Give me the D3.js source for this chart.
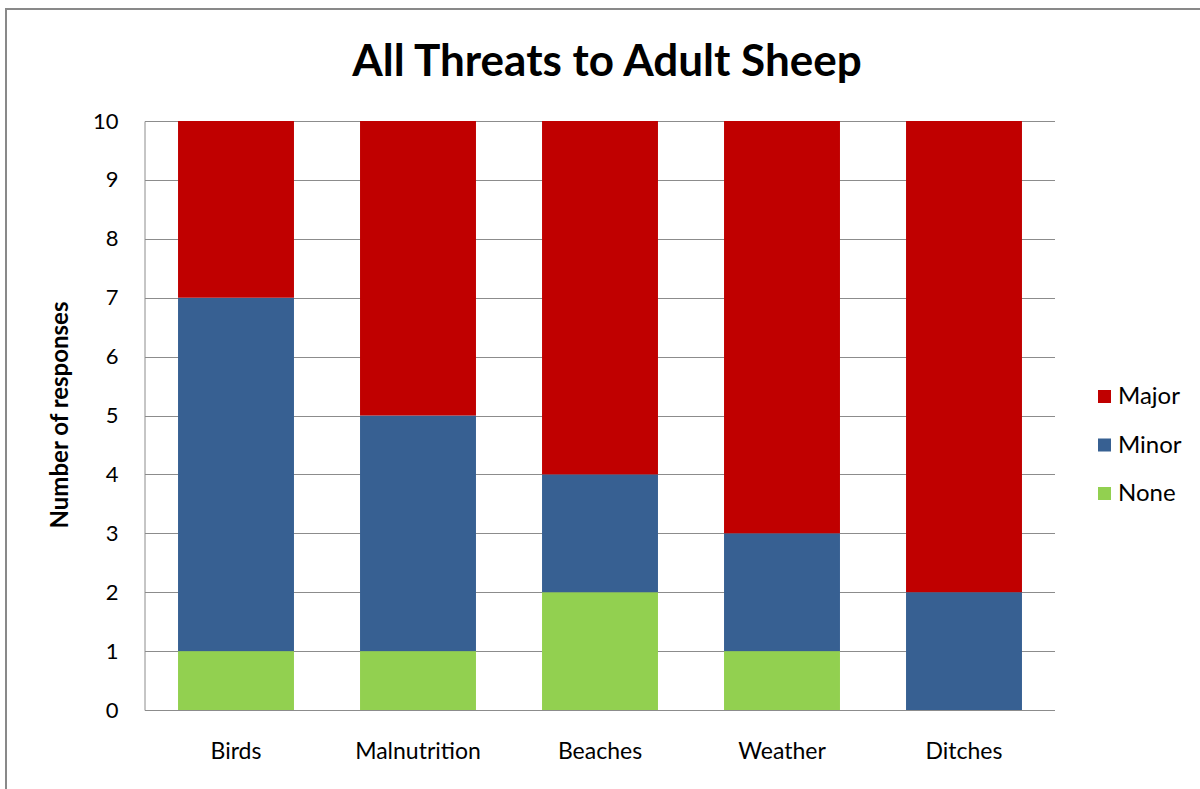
<!DOCTYPE html>
<html>
<head>
<meta charset="utf-8">
<script src="https://cdn.jsdelivr.net/npm/d3@7"></script>
<style>
  body { margin: 0; background: #fff; }
  text { font-family: Lato, "Open Sans", sans-serif; fill: #000; }
</style>
</head>
<body>
<script>
const categories = ['Birds', 'Malnutrition', 'Beaches', 'Weather', 'Ditches']
const seriesNames = ['None', 'Minor', 'Major']
const noneValues = [1, 1, 2, 1, 0]
const minorValues = [6, 4, 2, 2, 2]
const majorValues = [3, 5, 6, 7, 8]
const yTicks = [0, 1, 2, 3, 4, 5, 6, 7, 8, 9, 10]
const colors = { None: '#92d050', Minor: '#376092', Major: '#c00000' }

const width = 1200
const height = 789
const plot = { left: 145, right: 1055, top: 121, bottom: 710 }

const table = categories.map(function(c, i) {
    return { cat: c, None: noneValues[i], Minor: minorValues[i], Major: majorValues[i] }
})
const stacked = d3.stack().keys(seriesNames)(table)

const svg = d3.select('body').append('svg')
    .attr('width', width)
    .attr('height', height)

// chart frame (runs off the right and bottom edge)
svg.append('rect')
    .attr('x', 6).attr('y', 9)
    .attr('width', 1300).attr('height', 900)
    .attr('fill', 'none')
    .attr('stroke', '#898989')
    .attr('stroke-width', 2)

const x = d3.scaleBand()
    .domain(categories)
    .range([plot.left, plot.right])
    .paddingInner(0.363)
    .paddingOuter(0.1815)

const y = d3.scaleLinear()
    .domain([0, 10])
    .range([plot.bottom, plot.top])

// gridlines
svg.append('g')
    .selectAll('line')
    .data(yTicks)
    .enter()
    .append('line')
    .attr('x1', plot.left)
    .attr('x2', plot.right)
    .attr('y1', function(d) { return Math.round(y(d)) + 0.5 })
    .attr('y2', function(d) { return Math.round(y(d)) + 0.5 })
    .attr('stroke', '#8c8c8c')
    .attr('stroke-width', 1)

// bars
svg.append('g')
    .selectAll('g')
    .data(stacked)
    .enter()
    .append('g')
    .attr('fill', function(s) { return colors[s.key] })
    .selectAll('rect')
    .data(function(s) { return s })
    .enter()
    .append('rect')
    .attr('x', function(d) { return x(d.data.cat) })
    .attr('width', x.bandwidth())
    .attr('y', function(d) { return y(d[1]) })
    .attr('height', function(d) { return y(d[0]) - y(d[1]) })

// y axis
const yAxis = svg.append('g')
    .attr('transform', 'translate(' + (plot.left - 0.5) + ',0)')
    .call(d3.axisLeft(y).tickValues(yTicks).tickSize(0).tickPadding(26))
yAxis.select('.domain').attr('stroke', '#8c8c8c')
yAxis.selectAll('text')
    .style('font-size', '22px')
    .attr('fill', '#000')

// x axis
const xAxis = svg.append('g')
    .attr('transform', 'translate(0,' + plot.bottom + ')')
    .call(d3.axisBottom(x).tickSize(0).tickPadding(33))
xAxis.select('.domain').remove()
xAxis.selectAll('text')
    .style('font-size', '23px')
    .attr('fill', '#000')

// title
svg.append('text')
    .attr('x', 607)
    .attr('y', 76)
    .attr('text-anchor', 'middle')
    .style('font-size', '44px')
    .style('font-weight', 'bold')
    .text('All Threats to Adult Sheep')

// y axis title
svg.append('text')
    .attr('transform', 'translate(68,415) rotate(-90)')
    .attr('text-anchor', 'middle')
    .style('font-size', '24px')
    .style('font-weight', 'bold')
    .text('Number of responses')

// legend
const legendItems = ['Major', 'Minor', 'None']
const legend = svg.append('g')
    .selectAll('g')
    .data(legendItems)
    .enter()
    .append('g')
    .attr('transform', function(d, i) { return 'translate(1098,' + (396 + i * 48.5) + ')' })
legend.append('rect')
    .attr('x', 0).attr('y', -6)
    .attr('width', 13).attr('height', 13)
    .attr('fill', function(d) { return colors[d] })
legend.append('text')
    .attr('x', 20)
    .attr('y', 8)
    .style('font-size', '24px')
    .text(function(d) { return d })
</script>
</body>
</html>
